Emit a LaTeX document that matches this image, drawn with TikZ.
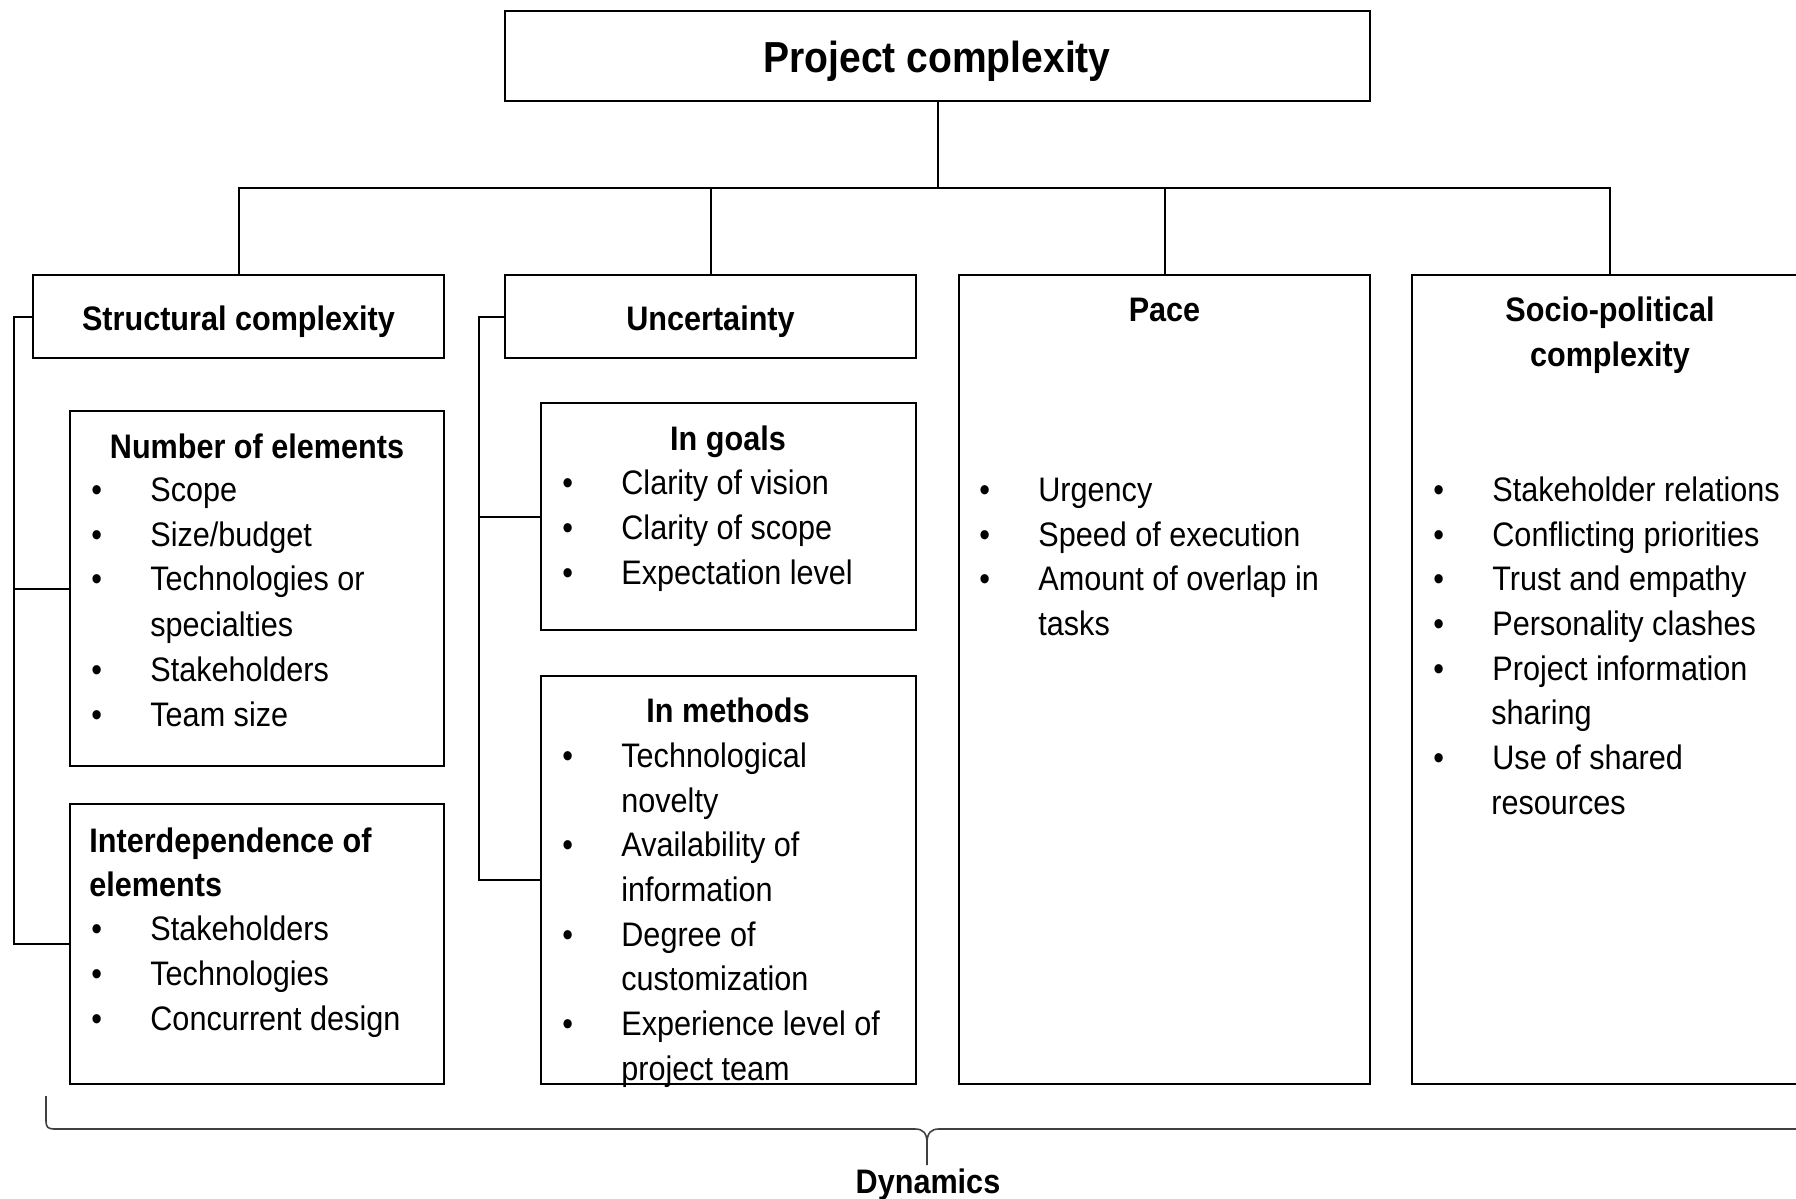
\documentclass[tikz,border=0pt]{standalone}
\usepackage{fontspec}
\setmainfont{Liberation Sans}[FakeStretch=0.9]
\usetikzlibrary{fit}
\newcommand\bl{\makebox[26.5pt][l]{\hspace{-3pt}•}}
\tikzset{
  boxx/.style={draw, line width=1.1pt, inner sep=0pt, rectangle},
  li/.style={inner sep=0pt, anchor=base west, font=\fontsize{17pt}{20pt}\selectfont},
  hd/.style={inner sep=0pt, anchor=base, font=\fontsize{17pt}{20pt}\selectfont\bfseries},
  hdl/.style={inner sep=0pt, anchor=base west, font=\fontsize{17pt}{20pt}\selectfont\bfseries},
  conn/.style={line width=1pt},
  bracestyle/.style={line width=0.8pt, black!75},
}
\begin{document}
\begin{tikzpicture}[x=0.5pt,y=-0.5pt]
\useasboundingbox (0,0) rectangle (1796,1199);
\clip (0,0) rectangle (1796,1199);
% boxes
\node[boxx, fit={(505,11) (1370,101)}] (top) {};
\node[boxx, fit={(33,275) (444,358)}] (sc) {};
\node[boxx, fit={(505,275) (916,358)}] (un) {};
\node[boxx, fit={(959,275) (1370,1084)}] (pa) {};
\node[boxx, fit={(1412,275) (1808,1084)}] (sp) {};
\node[boxx, fit={(70,411) (444,766)}] (ne) {};
\node[boxx, fit={(70,804) (444,1084)}] (ie) {};
\node[boxx, fit={(541,403) (916,630)}] (ig) {};
\node[boxx, fit={(541,676) (916,1084)}] (im) {};
% tree connectors
\coordinate (bus) at (0,188);
\draw[conn] (top.south) -- (top.south |- bus);
\draw[conn] (sc.north) -- (sc.north |- bus) -- (sp.north |- bus) -- (sp.north);
\draw[conn] (un.north) -- (un.north |- bus);
\draw[conn] (pa.north) -- (pa.north |- bus);
% brackets
\draw[conn] (sc.west) -- ++(-18,0) |- (ne.west);
\draw[conn] (sc.west) -- ++(-18,0) |- (ie.west);
\draw[conn] (un.west) -- ++(-25,0) |- (ig.west);
\draw[conn] (un.west) -- ++(-25,0) |- (im.west);
% title
\node[inner sep=0pt, anchor=base, font=\fontsize{21.7pt}{24pt}\selectfont\bfseries] (tt) at (937,72) {Project complexity};
% headings
\node[hd] (sct) at (238.5,330) {Structural complexity};
\node[hd] (unt) at (710.5,330) {Uncertainty};
\node[hd] (pat) at (1164.5,321) {Pace};
\node[hd] (spt1) at (1610,321) {Socio-political};
\node[hd] (spt2) at (1610,366) {complexity};
\node[hd] (net) at (257,458) {Number of elements};
\node[hdl] (iet1) at (89,852) {Interdependence of};
\node[hdl] (iet2) at (89,896) {elements};
\node[hd] (igt) at (728,450) {In goals};
\node[hd] (imt) at (728,722) {In methods};
% number of elements
\node[li] (n1) at (97,501) {\bl Scope};
\node[li] (n2) at (97,546) {\bl Size/budget};
\node[li] (n3) at (97,590) {\bl Technologies or};
\node[li] (n3b) at (150,636) {specialties};
\node[li] (n4) at (97,681) {\bl Stakeholders};
\node[li] (n5) at (97,726) {\bl Team size};
% interdependence
\node[li] (i1) at (97,940) {\bl Stakeholders};
\node[li] (i2) at (97,985) {\bl Technologies};
\node[li] (i3) at (97,1030) {\bl Concurrent design};
% in goals
\node[li] (g1) at (568,494) {\bl Clarity of vision};
\node[li] (g2) at (568,539) {\bl Clarity of scope};
\node[li] (g3) at (568,584) {\bl Expectation level};
% in methods
\node[li] (m1) at (568,767) {\bl Technological};
\node[li] (m1b) at (621,812) {novelty};
\node[li] (m2) at (568,856) {\bl Availability of};
\node[li] (m2b) at (621,901) {information};
\node[li] (m3) at (568,946) {\bl Degree of};
\node[li] (m3b) at (621,990) {customization};
\node[li] (m4) at (568,1035) {\bl Experience level of};
\node[li] (m4b) at (621,1080) {project team};
% pace
\node[li] (p1) at (985,501) {\bl Urgency};
\node[li] (p2) at (985,546) {\bl Speed of execution};
\node[li] (p3) at (985,590) {\bl Amount of overlap in};
\node[li] (p3b) at (1038,635) {tasks};
% socio-political
\node[li] (s1) at (1439,501) {\bl Stakeholder relations};
\node[li] (s2) at (1439,546) {\bl Conflicting priorities};
\node[li] (s3) at (1439,590) {\bl Trust and empathy};
\node[li] (s4) at (1439,635) {\bl Personality clashes};
\node[li] (s5) at (1439,680) {\bl Project information};
\node[li] (s5b) at (1491,724) {sharing};
\node[li] (s6) at (1439,769) {\bl Use of shared};
\node[li] (s6b) at (1491,814) {resources};
% dynamics brace
\coordinate (brL) at (46,1096);
\coordinate (brT) at (927,1165);
\coordinate (brR) at (1808,1096);
\draw[bracestyle] (brL) -- (46,1121) .. controls (46,1127) and (48,1129) .. (54,1129)
  -- (915,1129) .. controls (923,1129) and (927,1133) .. (927,1143) -- (brT);
\draw[bracestyle] (927,1143) .. controls (927,1133) and (931,1129) .. (939,1129)
  -- (1800,1129) .. controls (1806,1129) and (1808,1127) .. (1808,1121) -- (brR);
\node[hd] (dyn) at (928,1193) {Dynamics};
\end{tikzpicture}
\end{document}
